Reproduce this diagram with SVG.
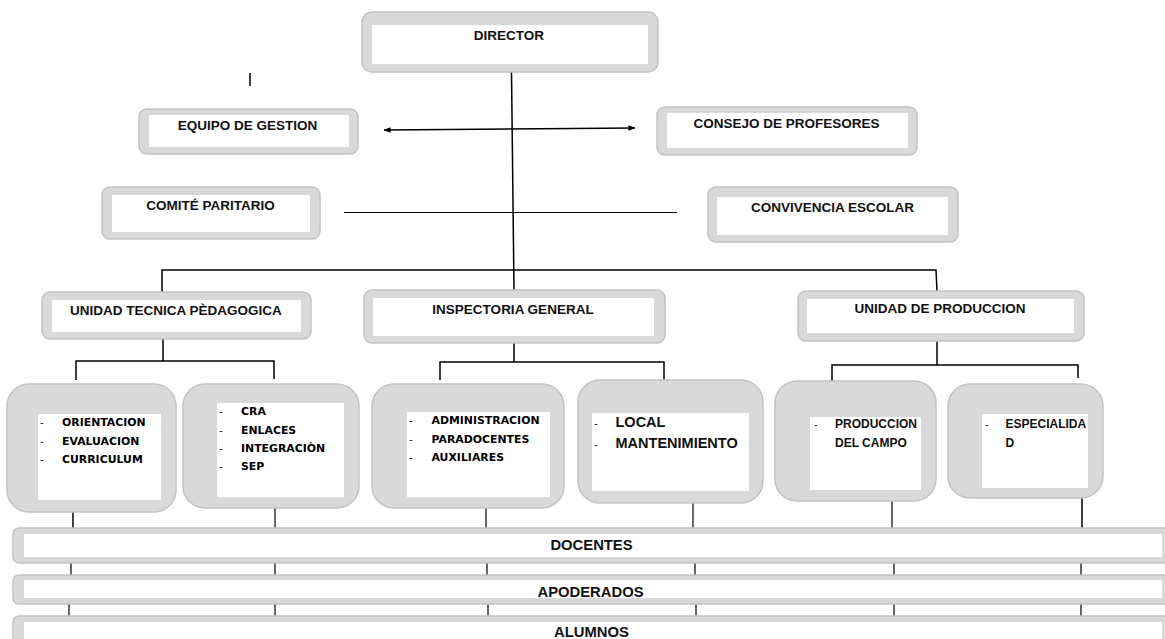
<svg xmlns="http://www.w3.org/2000/svg" width="1165" height="639" viewBox="0 0 1165 639">
<defs>
<style>
.box{fill:#d9d9d9;stroke:#c2c2c2;stroke-width:1.5}
.in{fill:#ffffff}
.t{font-family:"Liberation Sans",Arial,sans-serif;font-weight:bold;font-size:13.5px;fill:#111;text-anchor:middle}
.tb{font-family:"Liberation Sans",Arial,sans-serif;font-weight:bold;font-size:14.8px;fill:#111;text-anchor:middle}
.li{font-family:"DejaVu Sans",Verdana,sans-serif;font-weight:bold;font-size:10.9px;fill:#000}
.lg{font-family:"Liberation Sans",Arial,sans-serif;font-weight:bold;font-size:14.5px;fill:#111}
.ls{font-family:"Liberation Sans",Arial,sans-serif;font-weight:bold;font-size:12px;fill:#111}
.d{font-family:"Liberation Sans",Arial,sans-serif;font-weight:normal;font-size:11px;fill:#111}
.ln{stroke:#000;stroke-width:1.5;fill:none}
.lt{stroke:#000;stroke-width:1.2;fill:none}
</style>
<marker id="ah" viewBox="0 0 8 8" refX="7.5" refY="4" markerWidth="7" markerHeight="7" markerUnits="userSpaceOnUse" orient="auto-start-reverse">
<path d="M0,0.8 L8,4 L0,7.2 Z" fill="#000"/>
</marker>
</defs>
<rect width="1165" height="639" fill="#ffffff"/>

<g id="connectors">
<line class="ln" x1="511.5" y1="72" x2="514" y2="290"/>
<line class="ln" x1="384" y1="130" x2="635" y2="128" marker-start="url(#ah)" marker-end="url(#ah)"/>
<line class="lt" x1="344" y1="212.5" x2="677" y2="212.5"/>
<line class="ln" x1="250" y1="73" x2="250" y2="86"/>
<polyline class="ln" points="162,292 162,270 936,270 937,291"/>
<polyline class="ln" points="163,339 163,361"/>
<polyline class="ln" points="76,380 76,361 274,361 274,379"/>
<polyline class="ln" points="514,343 514,362"/>
<polyline class="ln" points="440,380 440,362 664,362 664,380"/>
<polyline class="ln" points="937,341 937,365"/>
<polyline class="ln" points="832,383 832,365 1078,365 1078,378"/>
<line class="ln" x1="73" y1="512" x2="73" y2="528"/>
<line class="lt" x1="275" y1="508" x2="275" y2="528"/>
<line class="lt" x1="486" y1="508" x2="486" y2="528"/>
<line class="lt" x1="693" y1="503" x2="693" y2="528"/>
<line class="lt" x1="892" y1="501" x2="892" y2="528"/>
<line class="ln" x1="1082" y1="498" x2="1082" y2="528"/>
<line class="lt" x1="71" y1="563" x2="71" y2="576"/>
<line class="lt" x1="275" y1="563" x2="275" y2="576"/>
<line class="lt" x1="487" y1="563" x2="487" y2="576"/>
<line class="lt" x1="695" y1="563" x2="695" y2="576"/>
<line class="lt" x1="894" y1="563" x2="894" y2="576"/>
<line class="lt" x1="1081" y1="563" x2="1081" y2="576"/>
<line class="lt" x1="69" y1="604" x2="69" y2="616"/>
<line class="lt" x1="275" y1="604" x2="275" y2="616"/>
<line class="lt" x1="488" y1="604" x2="488" y2="616"/>
<line class="lt" x1="696" y1="604" x2="696" y2="616"/>
<line class="lt" x1="894" y1="604" x2="894" y2="616"/>
<line class="lt" x1="1081" y1="604" x2="1081" y2="616"/>
</g>

<g id="director">
<rect class="box" x="362" y="12" width="296" height="60" rx="10"/>
<rect class="in" x="372" y="25" width="276" height="39"/>
<text class="t" x="509" y="40">DIRECTOR</text>
</g>
<g id="equipo">
<rect class="box" x="139" y="109" width="219" height="45" rx="8"/>
<rect class="in" x="149" y="115" width="200" height="32"/>
<text class="t" x="247.5" y="130">EQUIPO DE GESTION</text>
</g>
<g id="consejo">
<rect class="box" x="657" y="107" width="260" height="48" rx="8"/>
<rect class="in" x="667" y="113" width="241" height="35"/>
<text class="t" x="786.5" y="128">CONSEJO DE PROFESORES</text>
</g>
<g id="comite">
<rect class="box" x="102" y="187" width="218" height="52" rx="8"/>
<rect class="in" x="112" y="195" width="198" height="37"/>
<text class="t" x="210.5" y="210">COMITÉ PARITARIO</text>
</g>
<g id="convivencia">
<rect class="box" x="708" y="187" width="250" height="55" rx="8"/>
<rect class="in" x="717" y="197" width="231" height="38"/>
<text class="t" x="832.5" y="212">CONVIVENCIA ESCOLAR</text>
</g>
<g id="utp">
<rect class="box" x="42" y="292" width="269" height="47" rx="8"/>
<rect class="in" x="52" y="300" width="249" height="32"/>
<text class="t" x="176" y="315">UNIDAD TECNICA PÈDAGOGICA</text>
</g>
<g id="inspectoria">
<rect class="box" x="364" y="290" width="301" height="53" rx="8"/>
<rect class="in" x="373" y="298" width="281" height="38"/>
<text class="t" x="513" y="314">INSPECTORIA GENERAL</text>
</g>
<g id="produccion">
<rect class="box" x="798" y="291" width="286" height="50" rx="8"/>
<rect class="in" x="807" y="299" width="267" height="34"/>
<text class="t" x="940" y="313">UNIDAD DE PRODUCCION</text>
</g>

<g id="orientacion">
<rect class="box" x="7" y="384" width="169" height="128" rx="22"/>
<rect class="in" x="38" y="414" width="123" height="86"/>
<text class="d" x="40" y="426">-</text><text class="li" x="62" y="426">ORIENTACION</text>
<text class="d" x="40" y="445">-</text><text class="li" x="62" y="445">EVALUACION</text>
<text class="d" x="40" y="463">-</text><text class="li" x="62" y="463">CURRICULUM</text>
</g>
<g id="cra">
<rect class="box" x="183" y="384" width="176" height="124" rx="22"/>
<rect class="in" x="217" y="403" width="127" height="94"/>
<text class="d" x="219" y="415">-</text><text class="li" x="241" y="415">CRA</text>
<text class="d" x="219" y="434">-</text><text class="li" x="241" y="434">ENLACES</text>
<text class="d" x="219" y="452">-</text><text class="li" x="241" y="452">INTEGRACIÒN</text>
<text class="d" x="219" y="470">-</text><text class="li" x="241" y="470">SEP</text>
</g>
<g id="administracion">
<rect class="box" x="372" y="384" width="192" height="124" rx="22"/>
<rect class="in" x="407" y="412" width="143" height="85"/>
<text class="d" x="409" y="424">-</text><text class="li" x="431.5" y="424">ADMINISTRACION</text>
<text class="d" x="409" y="443">-</text><text class="li" x="431.5" y="443">PARADOCENTES</text>
<text class="d" x="409" y="461">-</text><text class="li" x="431.5" y="461">AUXILIARES</text>
</g>
<g id="local">
<rect class="box" x="578" y="380" width="185" height="123" rx="22"/>
<rect class="in" x="592" y="413" width="157" height="78"/>
<text class="d" x="594" y="427">-</text><text class="lg" x="615.5" y="427">LOCAL</text>
<text class="d" x="594" y="448">-</text><text class="lg" x="615.5" y="448">MANTENIMIENTO</text>
</g>
<g id="produccion-campo">
<rect class="box" x="775" y="381" width="161" height="120" rx="22"/>
<rect class="in" x="810" y="417" width="111" height="73"/>
<text class="d" x="814" y="428">-</text><text class="ls" x="835" y="428">PRODUCCION</text>
<text class="ls" x="835" y="447">DEL CAMPO</text>
</g>
<g id="especialidad">
<rect class="box" x="948" y="384" width="155" height="114" rx="22"/>
<rect class="in" x="982" y="414" width="106" height="74"/>
<text class="d" x="985" y="428">-</text><text class="ls" x="1005.5" y="428">ESPECIALIDA</text>
<text class="ls" x="1005.5" y="447">D</text>
</g>

<g id="docentes">
<rect class="box" x="13" y="528" width="1160" height="35" rx="6"/>
<rect class="in" x="24" y="534" width="1138" height="23"/>
<text class="tb" x="591.5" y="550">DOCENTES</text>
</g>
<g id="apoderados">
<rect class="box" x="13" y="575" width="1160" height="29" rx="6"/>
<rect class="in" x="24" y="580" width="1138" height="18"/>
<text class="tb" x="590.5" y="597">APODERADOS</text>
</g>
<g id="alumnos">
<rect class="box" x="13" y="616" width="1160" height="40" rx="6"/>
<rect class="in" x="24" y="622" width="1138" height="30"/>
<text class="tb" x="591.5" y="637">ALUMNOS</text>
</g>
</svg>
